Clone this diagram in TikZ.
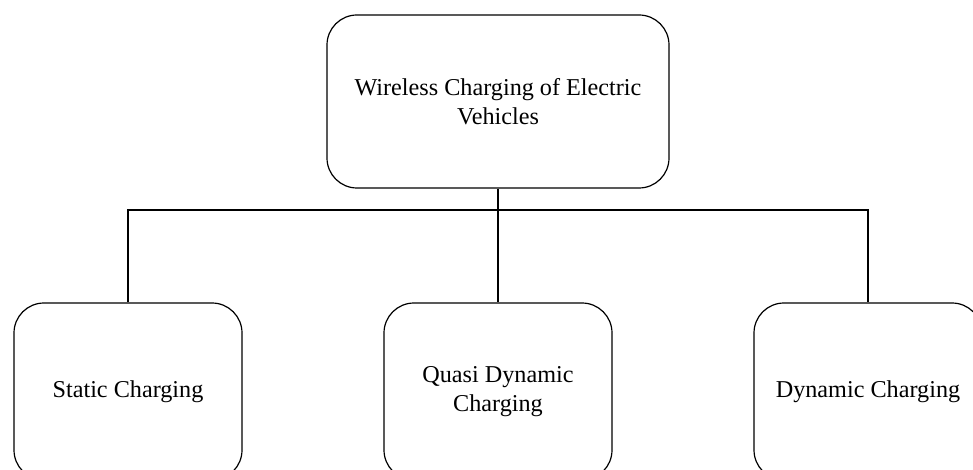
\documentclass[tikz,border=0pt]{standalone}
\usepackage{fontspec}
\setmainfont{Liberation Serif}
\begin{document}
\begin{tikzpicture}[x=1pt,y=-1pt,
  box/.style={draw, line width=1.2pt, rounded corners=30pt, align=center,
    font=\fontsize{24.2}{29.5}\selectfont, inner sep=0pt},
  topbox/.style={box, minimum width=342pt, minimum height=173pt},
  leafbox/.style={box, minimum width=228pt, minimum height=177pt},
  conn/.style={line width=1.2pt}]
\useasboundingbox (0,0) rectangle (973,470);
\clip (0,0) rectangle (973,470);
\node[topbox] (top) at (498,101.5) {Wireless Charging of Electric\\Vehicles};
\node[leafbox] (left) at (128,391.5) {Static Charging};
\node[leafbox] (mid) at (498,391.5) {Quasi Dynamic\\Charging};
\node[leafbox] (right) at (868,391.5) {Dynamic Charging};
\coordinate (j) at (498,210);
\draw[conn] (top.south) -- (mid.north);
\draw[conn] (left.north) |- (j) -| (right.north);
\end{tikzpicture}
\end{document}
